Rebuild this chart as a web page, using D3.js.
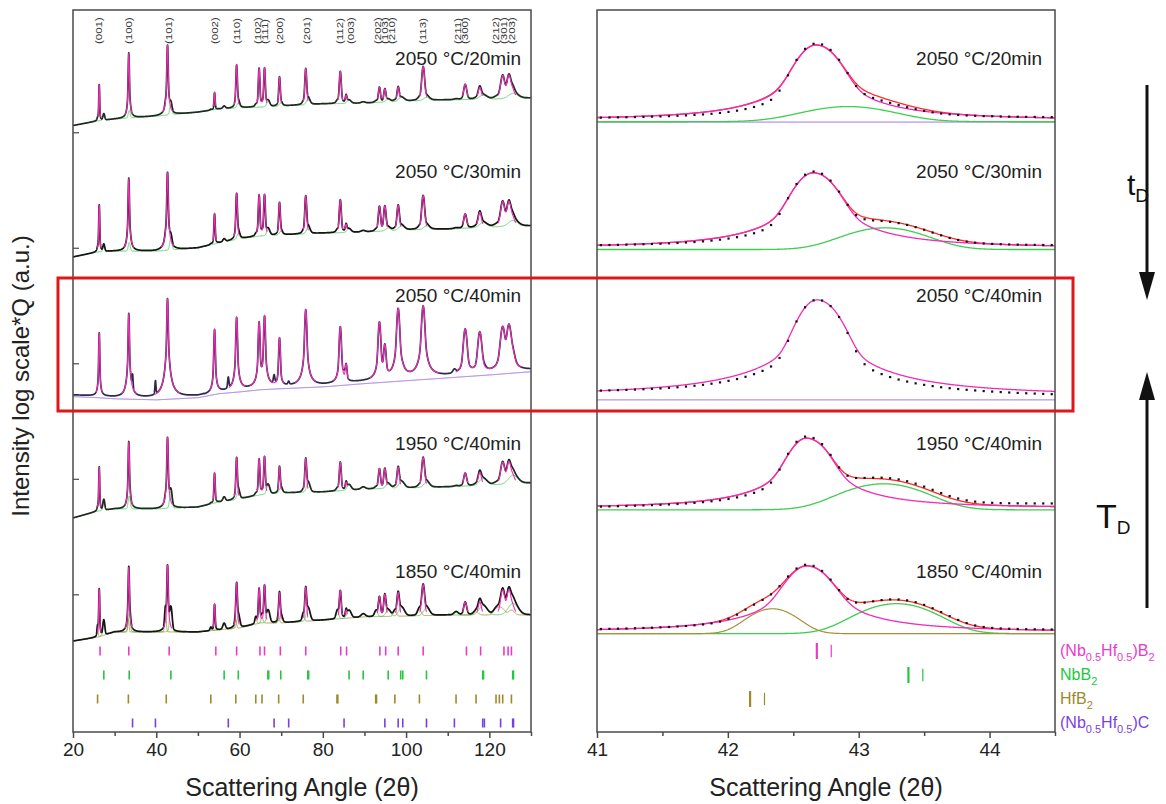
<!DOCTYPE html>
<html>
<head>
<meta charset="utf-8">
<script src="https://cdn.jsdelivr.net/npm/d3@7"></script>
<style>
  body { margin: 0; background: #fff; }
  text { font-family: "Liberation Sans", Arial, sans-serif; }
</style>
</head>
<body>
<svg id="chart" width="1166" height="804"></svg>
<script>
// ---------------- data ----------------
const sampleNames = ["2050 °C/20min", "2050 °C/30min", "2050 °C/40min", "1950 °C/40min", "1850 °C/40min"];

// (Nb0.5Hf0.5)B2 reflections: labels, label positions, peak positions (2θ) and FWHM (°)
const hklLabels = ["(001)","(100)","(101)","(002)","(110)","(102)","(111)","(200)","(201)","(112)","(003)","(202)","(103)","(210)","(113)","(211)","(300)","(212)","(301)","(203)"];
const hklLabelAngle = [26.3,33.4,43.0,54.1,59.3,64.5,66.1,69.7,76.3,84.1,86.7,93.3,94.9,96.5,104.1,112.5,114.1,121.7,123.5,125.4];
const mainAngle = [26.3,33.4,42.7,54.0,59.3,64.7,66.0,69.6,75.9,84.2,85.6,93.6,94.9,98.1,104.1,114.2,117.7,123.2,124.7,125.6];
const mainFwhm  = [0.18,0.2,0.22,0.26,0.28,0.3,0.3,0.32,0.36,0.4,0.42,0.48,0.5,0.52,0.58,0.72,0.78,0.9,0.92,0.95];

// peak heights above background, 10·log10 units, one list per sample
const h20min = [10.0,18.0,19.4,4.7,11.9,10.8,10.8,8.0,10.0,8.9,2.2,4.2,3.6,3.9,9.4,4.2,3.3,6.4,6.4,2.0];
const h30min = [13.0,20.2,21.6,8.3,12.7,11.4,11.4,8.9,10.5,9.1,2.2,6.9,6.9,6.9,9.4,3.9,4.2,6.9,6.9,2.0];
const h40min = [17.5,23.3,27.4,17.5,20.2,18.3,19.9,13.6,21.1,15.8,5.0,16.3,9.7,19.7,19.9,12.7,11.6,12.5,13.0,4.0];
const h1950  = [12.2,18.6,19.7,8.3,11.6,10.0,10.5,7.2,9.4,8.0,2.2,5.5,5.5,5.8,8.3,3.6,3.6,6.1,6.1,2.0];
const h1850  = [13.3,18.0,18.6,7.2,12.5,9.7,10.5,8.3,9.4,7.8,2.2,5.5,6.1,6.6,8.6,3.6,3.6,6.9,6.9,2.0];

// background (log units) along 2θ, relative to each pattern's stacking offset
const bgAngles = [20,26,30,40,50,55,60,65,70,80,90,100,110,120,130];
const bg20min = [0,1.3,1.8,2.6,3.7,4.6,4.9,5.1,5.4,6.0,6.2,6.8,7.1,7.3,7.6];
const bg30min = [0,1.4,1.6,1.6,2.5,3.9,5.0,5.8,6.1,6.6,6.9,7.5,7.7,8.3,8.6];
const bg40min = [0,-0.3,-0.6,-0.9,-0.3,0.8,1.3,1.9,2.2,2.7,3.6,4.4,5.2,6.0,6.9];
const bg1950  = [0,1.9,2.5,2.5,3.0,4.4,5.2,6.4,6.9,7.2,8.0,8.3,8.6,9.1,9.7];
const bg1850  = [0,1.1,2.5,2.5,2.5,3.1,3.6,5.0,5.0,5.8,6.7,6.9,7.2,7.2,7.2];
const stackOffset = [168, 131.6, 93.4, 59.3, 25.2];

// secondary phases: reflection positions and component heights (log units)
const nbAngle  = [27.4,33.5,43.5,56.3,59.7,66.8,67.0,69.9,76.4,76.6,86.3,89.7,95.7,98.7,99.2,104.9,118.4,118.6,125.6,125.8];
const nbHeight = [5,6,8,2,4,3,2,2.5,3,2,2.5,1,2,2,1.5,2.5,2,1.5,2.5,2];
const hfAngle  = [25.9,33.3,42.2,53.1,59.1,63.9,65.4,69.4,75.3,83.4,83.6,92.7,92.9,97.3,103.2,112.0,116.8,121.6,122.4,123.2,125.3];
const hfHeight = [3,4,6.9,1,2.5,2,2,1.5,2,1.5,1.5,1,1,1.5,2,1,1,1.5,1.5,1.5,1.5];
const carbAngle  = [34.3,39.8,57.3,68.3,71.8,85.1,94.9,98.1,99.2,104.9,111.6,118.4,118.8,122.7,125.6,125.8];
const carbHeight = [5.5,4.4,3.5,2.8,1,2,1,1,0.5,0.8,1.2,0.8,0.5,0.8,0.8,0.5];
const nbScale   = [0.35, 0.4, 0, 0.6, 0.85];
const hfScale   = [0.2, 0.2, 0, 0.2, 0.9];
const carbScale = [0, 0, 1, 0, 0];

// (101) region fits, one entry per sample
const zoomOffset     = [169.5, 134.1, 93.1, 62.0, 27.7];
const zoomMainCenter = [42.68, 42.66, 42.69, 42.61, 42.61];
const zoomMainHeight = [20.8, 20.8, 26.6, 19.4, 18.3];
const zoomMainFwhm   = [0.22, 0.22, 0.2, 0.2, 0.24];
const zoomMainEta    = [0.3, 0.3, 0.2, 0.38, 0.4];
const zoomObsEta     = [0.15, 0.18, 0.13, 0.25, 0.3];
const zoomNbCenter   = [42.92, 43.20, 43.2, 43.19, 43.29];
const zoomNbHeight   = [4.2, 6.0, 0, 7.2, 8.3];
const zoomNbFwhm     = [0.7, 0.6, 0.6, 0.6, 0.55];
const zoomHfCenter   = [42.34, 42.34, 42.34, 42.34, 42.34];
const zoomHfHeight   = [0, 0, 0, 0, 6.9];
const zoomHfFwhm     = [0.35, 0.35, 0.35, 0.35, 0.35];
const zoomObsTiltL   = [0.3, 0.3, 0.5, 0, 0.3];
const zoomObsTiltR   = [0.5, 0.4, -0.4, 1.0, 0.3];

// reflection markers
const markMain = [26.5,33.4,43.1,54.3,59.3,64.9,66.0,69.8,75.9,84.3,85.7,93.7,95.1,98.1,104.1,114.5,117.9,123.5,124.5,125.3];
const markNb   = [27.4,33.5,43.5,56.3,59.7,66.8,67.0,69.9,76.4,76.6,86.3,89.7,95.7,98.7,99.2,104.9,118.4,118.6,125.6,125.8];
const markHf   = [25.9,33.3,42.4,53.1,59.1,63.9,65.4,69.4,75.3,83.4,83.6,92.7,92.9,97.3,103.2,112.0,116.8,121.6,122.4,123.2,125.3];
const markCarb = [34.3,39.8,57.3,68.3,71.8,85.1,94.9,98.1,99.2,104.9,111.6,118.4,118.8,122.7,125.6,125.8];
const zoomMarkMain = [42.68, 42.79];
const zoomMarkNb   = [43.38, 43.49];
const zoomMarkHf   = [42.17, 42.28];
const zoomMarkWeight = [1, 0.5];

const leftTicks  = [20, 40, 60, 80, 100, 120];
const leftMinor  = [30, 50, 70, 90, 110, 130];
const rightTicks = [41, 42, 43, 44];
const rightMinor = [41.5, 42.5, 43.5, 44.5];
const yInnerTicks = [38, 70, 102, 134, 166];

// ---------------- layout ----------------
const svg = d3.select("#chart");
const Lx0 = 73, Lx1 = 531, Rx0 = 597, Rx1 = 1055, Y0 = 10, Y1 = 732;
const xL = d3.scaleLinear().domain([20, 130]).range([Lx0, Lx1]);
const xR = d3.scaleLinear().domain([41, 44.5]).range([Rx0, Rx1]);
const yS = d3.scaleLinear().domain([0, 200]).range([Y1, Y0]);
const rowY = [651, 675, 699, 723];

const C = {
  pink: "#f22cb8", red: "#ff2b2b", green: "#3dcf4f", olive: "#a8903a",
  purple: "#9466dd", frame: "#4a4a4a", text: "#222",
  markPink: "#e83cc8", markGreen: "#22c83e", markOlive: "#9c8a2c", markPurple: "#7a3fe2"
};
const obsColor = ["#1f2a22", "#151515", "#2c2a4a", "#1f2a22", "#151515"];

// ---------------- profile model ----------------
function pv(x, c, fwhm, eta) {
  const u = (x - c) / (fwhm / 2), u2 = u * u;
  return eta / (1 + u2) + (1 - eta) * Math.exp(-Math.LN2 * u2);
}
const ratio = h => Math.pow(10, h / 10) - 1;
const dB = r => 10 * Math.log10(1 + r);
function sumPeaks(peaks, x, eta) {
  let s = 0;
  for (const p of peaks) {
    if (p.r <= 0) continue;
    if (Math.abs(x - p.c) > 40 * p.w) continue;
    s += p.r * pv(x, p.c, p.w, eta);
  }
  return s;
}

const defs = svg.append("defs");
defs.append("clipPath").attr("id", "clipL").append("rect")
  .attr("x", Lx0).attr("y", Y0).attr("width", Lx1 - Lx0).attr("height", Y1 - Y0);
defs.append("clipPath").attr("id", "clipR").append("rect")
  .attr("x", Rx0).attr("y", Y0).attr("width", Rx1 - Rx0).attr("height", Y1 - Y0);

// ---------------- full patterns ----------------
const resolution = d3.scaleLinear().domain(mainAngle).range(mainFwhm).clamp(true);
const grid = d3.range(20, 130.0001, 0.02);
const heightsBySample = [h20min, h30min, h40min, h1950, h1850];
const bgBySample = [bg20min, bg30min, bg40min, bg1950, bg1850];
const gL = svg.append("g").attr("clip-path", "url(#clipL)");

sampleNames.forEach((name, t) => {
  const bg = d3.scaleLinear().domain(bgAngles).range(bgBySample[t]);
  const mainPk = mainAngle.map((c, i) => ({ c, w: mainFwhm[i], r: ratio(heightsBySample[t][i]) }));
  const nbPk = nbAngle.map((c, i) => ({ c, w: 2.5 * resolution(c), r: ratio(nbHeight[i] * nbScale[t]) }));
  const hfPk = hfAngle.map((c, i) => ({ c, w: 1.6 * resolution(c), r: ratio(hfHeight[i] * hfScale[t]) }));
  const cbPk = carbAngle.map((c, i) => ({ c, w: 1.2 * resolution(c), r: ratio(carbHeight[i] * carbScale[t]) }));

  const pts = grid.map(x => {
    const base = stackOffset[t] + bg(x);
    const M = sumPeaks(mainPk, x, 0.35);
    const N = sumPeaks(nbPk, x, 0.1);
    const F = sumPeaks(hfPk, x, 0.1);
    const K = sumPeaks(cbPk, x, 0.3);
    return { x, base, M, obs: base + dB(M + N + F + K), main: base + dB(M), nb: base + dB(N), hf: base + dB(F) };
  });

  const line = key => d3.line().x(d => xL(d.x)).y(d => yS(d[key]));
  if (carbScale[t] > 0) {
    gL.append("path").datum(pts).attr("fill", "none").attr("stroke", C.purple).attr("stroke-width", 1)
      .attr("d", d3.line().x(d => xL(d.x)).y(d => yS(d.base - 0.5)));
  }
  if (nbScale[t] > 0) {
    gL.append("path").datum(pts).attr("fill", "none").attr("stroke", C.green).attr("stroke-width", 1)
      .attr("stroke-opacity", 0.8).attr("d", line("nb"));
  }
  if (hfScale[t] > 0.5) {
    gL.append("path").datum(pts).attr("fill", "none").attr("stroke", C.olive).attr("stroke-width", 1)
      .attr("stroke-opacity", 0.8).attr("d", line("hf"));
  }
  gL.append("path").datum(pts).attr("fill", "none").attr("stroke", obsColor[t])
    .attr("stroke-width", 1.7).attr("stroke-linejoin", "round").attr("d", line("obs"));
  gL.append("path").datum(pts).attr("fill", "none").attr("stroke", C.pink).attr("stroke-width", 1.1)
    .attr("d", d3.line().defined(d => d.M > 0.25).x(d => xL(d.x)).y(d => yS(d.main)));
});

// ---------------- (101) region ----------------
const rgrid = d3.range(41, 44.5001, 0.005);
const dgrid = d3.range(41.03, 44.5, 0.065);
const gR = svg.append("g").attr("clip-path", "url(#clipR)");

sampleNames.forEach((name, t) => {
  const c1 = zoomMainCenter[t] - 0.03, w = zoomMainFwhm[t];
  const prof = (x, eta) => pv(x, c1, w, eta) + 0.5 * pv(x, c1 + 0.11, w, eta);
  const normFit = d3.max(rgrid, x => prof(x, zoomMainEta[t]));
  const normObs = d3.max(rgrid, x => prof(x, zoomObsEta[t]));
  const Hm = ratio(zoomMainHeight[t]);
  const Hn = ratio(zoomNbHeight[t]);
  const Hh = ratio(zoomHfHeight[t]);
  const off = zoomOffset[t];
  const tilt = d3.scaleLinear().domain([41, 44.5]).range([zoomObsTiltL[t], zoomObsTiltR[t]]);

  const comp = x => ({
    M: Hm * prof(x, zoomMainEta[t]) / normFit,
    N: Hn * pv(x, zoomNbCenter[t], zoomNbFwhm[t], 0),
    F: Hh * pv(x, zoomHfCenter[t], zoomHfFwhm[t], 0)
  });
  const pts = rgrid.map(x => {
    const k = comp(x);
    return { x, main: off + dB(k.M), nb: off + dB(k.N), hf: off + dB(k.F), tot: off + dB(k.M + k.N + k.F) };
  });
  const dots = dgrid.map(x => {
    const k = comp(x);
    const Mo = Hm * prof(x, zoomObsEta[t]) / normObs;
    return { x, v: off + tilt(x) + dB(Mo + k.N + k.F) };
  });
  const line = key => d3.line().x(d => xR(d.x)).y(d => yS(d[key]));

  if (t === 0 || t === 2) {
    gR.append("path").datum(pts).attr("fill", "none").attr("stroke", C.purple).attr("stroke-width", 1)
      .attr("d", d3.line().x(d => xR(d.x)).y(() => yS(off - (t === 2 ? 1.1 : 0.55))));
  }
  if (zoomNbHeight[t] > 0) {
    gR.append("path").datum(pts).attr("fill", "none").attr("stroke", C.green).attr("stroke-width", 1.3)
      .attr("d", d3.line().x(d => xR(d.x)).y(d => yS(d.nb - 0.45)));
  }
  if (zoomHfHeight[t] > 0) {
    gR.append("path").datum(pts).attr("fill", "none").attr("stroke", C.olive).attr("stroke-width", 1.2)
      .attr("d", d3.line().x(d => xR(d.x)).y(d => yS(d.hf - 0.45)));
  }
  if (zoomNbHeight[t] > 0 || zoomHfHeight[t] > 0) {
    gR.append("path").datum(pts).attr("fill", "none").attr("stroke", C.red).attr("stroke-width", 1.3).attr("d", line("tot"));
  }
  gR.append("path").datum(pts).attr("fill", "none").attr("stroke", C.pink).attr("stroke-width", 1.3).attr("d", line("main"));
  gR.selectAll(null).data(dots).enter().append("rect")
    .attr("x", d => xR(d.x) - 1.1).attr("y", d => yS(d.v) - 1.1)
    .attr("width", 2.2).attr("height", 2.2).attr("fill", "#111");
});

// ---------------- reflection markers ----------------
const markRows = [
  { list: markMain, color: C.markPink },
  { list: markNb, color: C.markGreen },
  { list: markHf, color: C.markOlive },
  { list: markCarb, color: C.markPurple }
];
markRows.forEach((row, r) => {
  svg.append("g").selectAll("line").data(row.list).enter().append("line")
    .attr("x1", d => xL(d)).attr("x2", d => xL(d))
    .attr("y1", rowY[r] - 4.5).attr("y2", rowY[r] + 4.5)
    .attr("stroke", row.color).attr("stroke-width", 1.6);
});
const zoomRows = [
  { list: zoomMarkMain, color: C.markPink },
  { list: zoomMarkNb, color: C.markGreen },
  { list: zoomMarkHf, color: C.markOlive }
];
zoomRows.forEach((row, r) => {
  svg.append("g").selectAll("line").data(row.list).enter().append("line")
    .attr("x1", d => xR(d)).attr("x2", d => xR(d))
    .attr("y1", (d, i) => rowY[r] - 8 * (0.55 + 0.45 * zoomMarkWeight[i]))
    .attr("y2", (d, i) => rowY[r] + 8 * (0.55 + 0.45 * zoomMarkWeight[i]))
    .attr("stroke", row.color).attr("stroke-width", (d, i) => 1.2 + 2 * (zoomMarkWeight[i] - 0.5));
});

// ---------------- frames & axes ----------------
[[Lx0, Lx1], [Rx0, Rx1]].forEach(([a, b]) => {
  svg.append("rect").attr("x", a).attr("y", Y0).attr("width", b - a).attr("height", Y1 - Y0)
    .attr("fill", "none").attr("stroke", C.frame).attr("stroke-width", 1.5);
});

function drawAxis(scale, major, minor) {
  const gMaj = svg.append("g").attr("transform", `translate(0,${Y1})`)
    .call(d3.axisBottom(scale).tickValues(major).tickSize(6).tickPadding(5).tickFormat(d3.format("d")));
  gMaj.select(".domain").remove();
  gMaj.selectAll("line").attr("stroke", C.frame).attr("stroke-width", 1.5);
  gMaj.selectAll("text").attr("font-size", 19).attr("fill", C.text)
    .style("font-family", "'Liberation Sans', Arial, sans-serif");
  const gMin = svg.append("g").attr("transform", `translate(0,${Y1})`)
    .call(d3.axisBottom(scale).tickValues(minor).tickSize(4).tickFormat(""));
  gMin.select(".domain").remove();
  gMin.selectAll("line").attr("stroke", C.frame).attr("stroke-width", 1.5);
}
drawAxis(xL, leftTicks, leftMinor);
drawAxis(xR, rightTicks, rightMinor);

svg.append("g").selectAll("line").data(yInnerTicks).enter().append("line")
  .attr("x1", Lx0).attr("x2", Lx0 + 6).attr("y1", d => yS(d)).attr("y2", d => yS(d))
  .attr("stroke", C.frame).attr("stroke-width", 1.2);

svg.append("text").attr("x", (Lx0 + Lx1) / 2).attr("y", 796).attr("text-anchor", "middle")
  .attr("font-size", 25).attr("fill", C.text).text("Scattering Angle (2θ)");
svg.append("text").attr("x", (Rx0 + Rx1) / 2).attr("y", 796).attr("text-anchor", "middle")
  .attr("font-size", 25).attr("fill", C.text).text("Scattering Angle (2θ)");
svg.append("text").attr("transform", "translate(29,376) rotate(-90)").attr("text-anchor", "middle")
  .attr("font-size", 24).attr("fill", C.text).text("Intensity log scale*Q (a.u.)");

// hkl labels (narrow, vertical)
svg.append("g").selectAll("text").data(hklLabels).enter().append("text")
  .attr("transform", (d, i) => `translate(${xL(hklLabelAngle[i])},44) rotate(-90) scale(1,0.72)`)
  .attr("dy", "0.36em").attr("font-size", 11.5).attr("fill", "#3a3a3a").text(d => d);

// sample labels
const labelBase = [65, 178, 302, 450, 578];
sampleNames.forEach((name, t) => {
  [Lx1 - 10, Rx1 - 13].forEach(x => {
    svg.append("text").attr("x", x).attr("y", labelBase[t]).attr("text-anchor", "end")
      .attr("font-size", 19).attr("fill", C.text).text(name);
  });
});

// phase legend with subscripts
const legendColors = [C.markPink, C.markGreen, C.markOlive, C.markPurple];
const legendParts = [
  [["(Nb", 0], ["0.5", 1], ["Hf", 0], ["0.5", 1], [")B", 0], ["2", 1]],
  [["NbB", 0], ["2", 1]],
  [["HfB", 0], ["2", 1]],
  [["(Nb", 0], ["0.5", 1], ["Hf", 0], ["0.5", 1], [")C", 0]]
];
legendParts.forEach((parts, r) => {
  const tx = svg.append("text").attr("x", 1060).attr("y", rowY[r] + 5)
    .attr("font-size", 16).attr("fill", legendColors[r]);
  let shifted = false;
  parts.forEach(([s, sub]) => {
    const ts = tx.append("tspan").text(s);
    if (sub && !shifted) { ts.attr("dy", 5).attr("font-size", 11); shifted = true; }
    else if (sub) { ts.attr("font-size", 11); }
    else if (!sub && shifted) { ts.attr("dy", -5); shifted = false; }
  });
});

// annotation: red box around the 40 min pattern
svg.append("rect").attr("x", 58).attr("y", 278).attr("width", 1015).attr("height", 133)
  .attr("fill", "none").attr("stroke", "#e0161b").attr("stroke-width", 3);

// arrows for dwell time and temperature
const ax = 1147;
svg.append("line").attr("x1", ax).attr("x2", ax).attr("y1", 85).attr("y2", 280)
  .attr("stroke", "#111").attr("stroke-width", 3);
svg.append("path").attr("d", `M${ax - 8},272 L${ax + 8},272 L${ax},300 Z`).attr("fill", "#111");
svg.append("line").attr("x1", ax).attr("x2", ax).attr("y1", 608).attr("y2", 392)
  .attr("stroke", "#111").attr("stroke-width", 3);
svg.append("path").attr("d", `M${ax - 8},400 L${ax + 8},400 L${ax},372 Z`).attr("fill", "#111");

const tD = svg.append("text").attr("x", 1127).attr("y", 195).attr("font-size", 30).attr("fill", "#111");
tD.append("tspan").text("t");
tD.append("tspan").attr("dy", 7).attr("font-size", 19).text("D");
const TD = svg.append("text").attr("x", 1096).attr("y", 528).attr("font-size", 34).attr("fill", "#111");
TD.append("tspan").text("T");
TD.append("tspan").attr("dy", 6).attr("font-size", 19).text("D");
</script>
</body>
</html>
